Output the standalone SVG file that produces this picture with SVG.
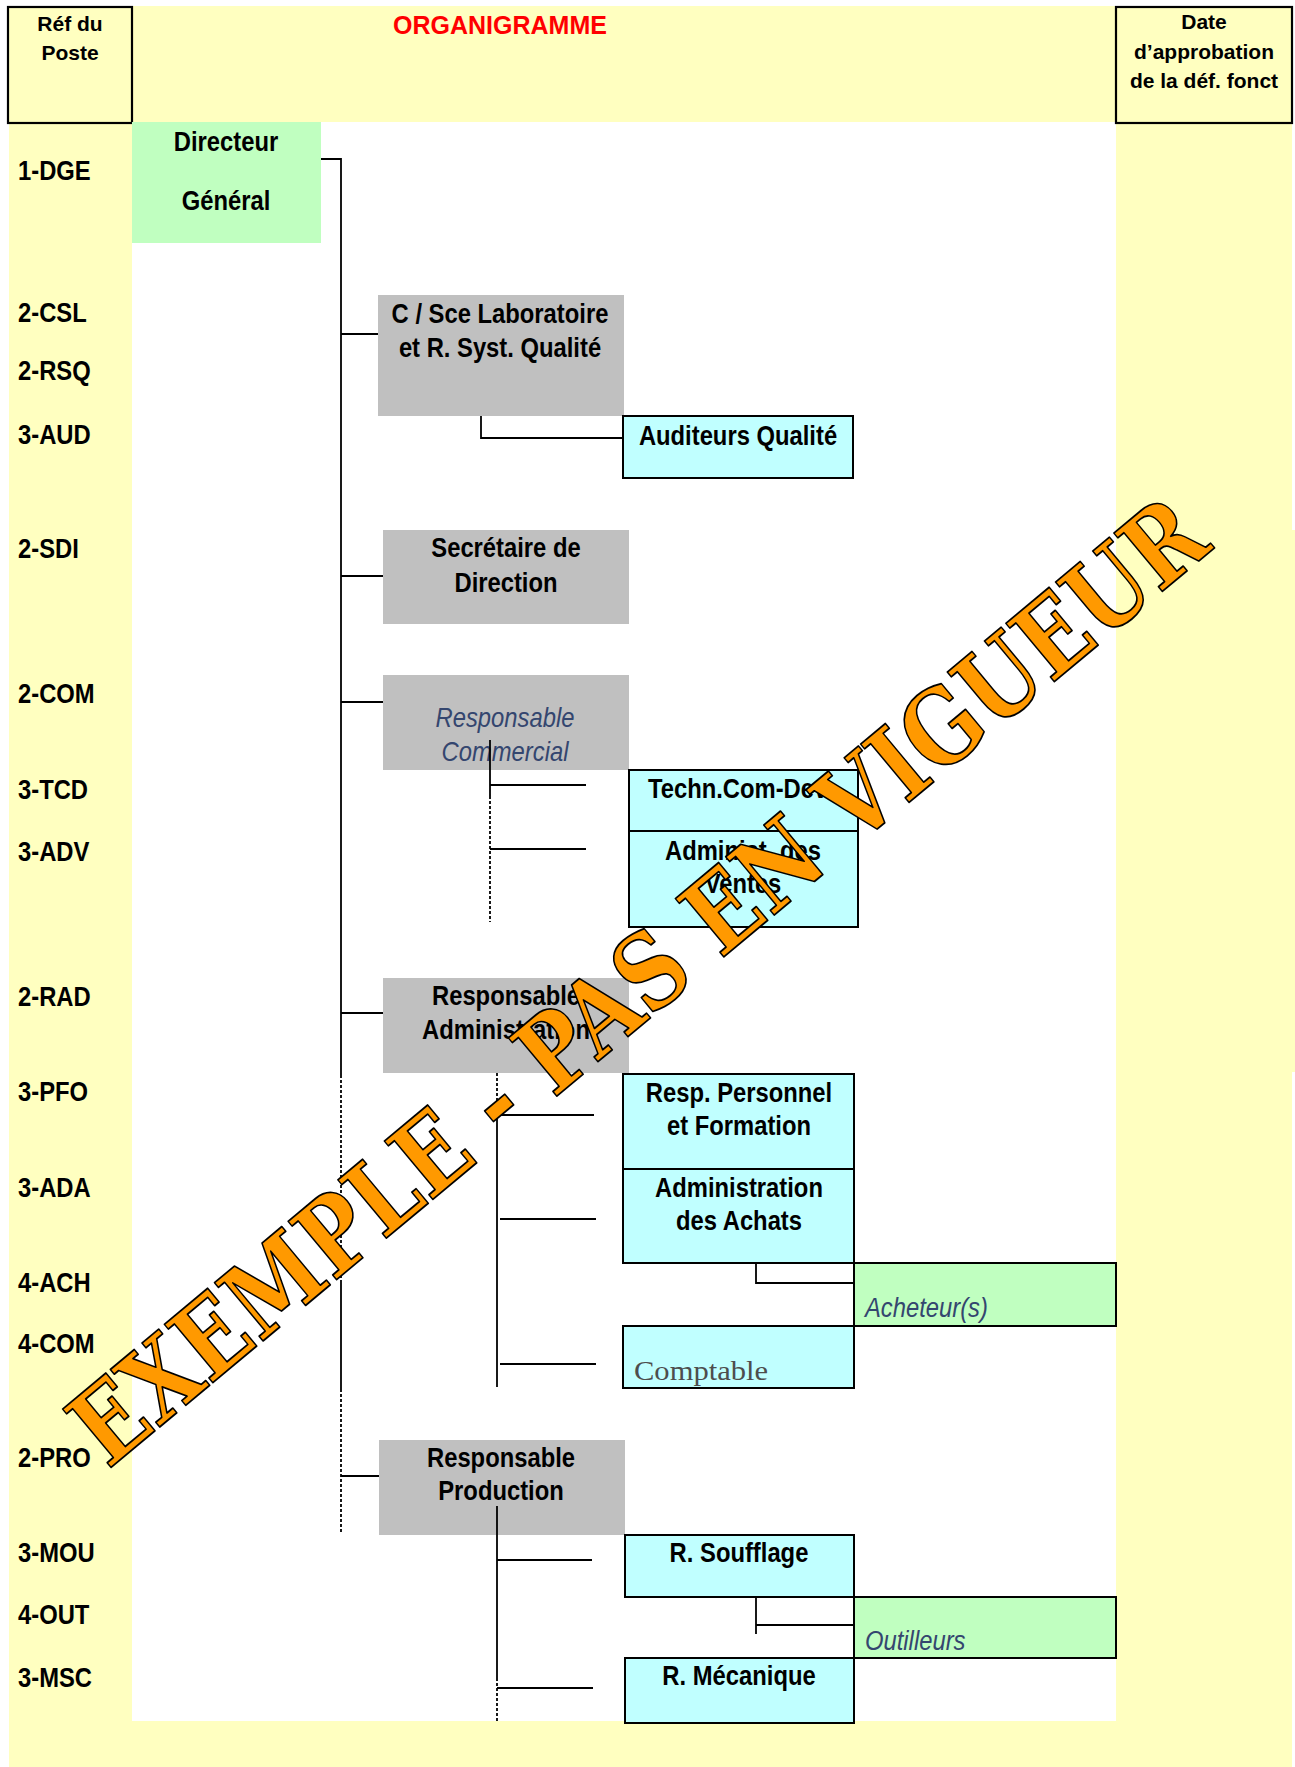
<svg xmlns="http://www.w3.org/2000/svg" width="1295" height="1767" viewBox="0 0 1295 1767">
  <style>
    text { font-family: "Liberation Sans", Arial, sans-serif; }
    .b { font-weight: bold; font-size: 28px; fill: #000; }
    .c { text-anchor: middle; }
    .it { font-style: italic; font-size: 28px; fill: #34466f; }
    .hd { font-weight: bold; font-size: 21px; text-anchor: middle; fill: #000; }
    .ttl { font-weight: bold; font-size: 25px; text-anchor: middle; fill: #ff0000; }
    .yel { fill: #ffffc0; }
    .gray { fill: #c0c0c0; }
    .cyan { fill: #c0ffff; stroke: #000; stroke-width: 2; }
    .green { fill: #c0ffc0; stroke: #000; stroke-width: 2; }
    .frame { fill: none; stroke: #000; stroke-width: 2.2; }
    .ln { stroke: #000; stroke-width: 1.8; fill: none; }
    .dash { stroke-dasharray: 3 2; }
    .serif { font-family: "Liberation Serif", "Times New Roman", serif; font-size: 28px; fill: #4d4d4d; }
    .wm { font-family: "DejaVu Serif", "Liberation Serif", serif; font-weight: bold; font-size: 104px; fill: #ff9900; stroke: #000; stroke-width: 1.8; stroke-linejoin: round; }
  </style>

  <!-- page background: yellow frame around the white chart area -->
  <g id="background">
    <rect x="0" y="0" width="1295" height="1767" fill="#fff"/>
    <rect class="yel" x="9" y="6" width="1107" height="116"/>
    <rect class="yel" x="9" y="122" width="123" height="1600"/>
    <rect class="yel" x="1116" y="6" width="176" height="1716"/>
    <rect class="yel" x="1120" y="530" width="175" height="542"/>
    <rect class="yel" x="9" y="1721" width="1283" height="46"/>
  </g>

  <!-- header cells -->
  <g id="header">
    <rect class="frame" x="8" y="7" width="124" height="116"/>
    <text class="hd" x="70" y="31">Réf du</text>
    <text class="hd" x="70" y="60">Poste</text>
    <text class="ttl" x="500" y="34">ORGANIGRAMME</text>
    <rect class="frame" x="1116" y="7" width="176" height="116"/>
    <text class="hd" x="1204" y="29">Date</text>
    <text class="hd" x="1204" y="59">d’approbation</text>
    <text class="hd" x="1204" y="88">de la déf. fonct</text>
  </g>

  <!-- job reference codes -->
  <g id="codes">
    <text class="b" transform="translate(18,180) scale(.85 1)">1-DGE</text>
    <text class="b" transform="translate(18,322) scale(.85 1)">2-CSL</text>
    <text class="b" transform="translate(18,380) scale(.85 1)">2-RSQ</text>
    <text class="b" transform="translate(18,444) scale(.85 1)">3-AUD</text>
    <text class="b" transform="translate(18,558) scale(.85 1)">2-SDI</text>
    <text class="b" transform="translate(18,703) scale(.85 1)">2-COM</text>
    <text class="b" transform="translate(18,799) scale(.85 1)">3-TCD</text>
    <text class="b" transform="translate(18,861) scale(.85 1)">3-ADV</text>
    <text class="b" transform="translate(18,1006) scale(.85 1)">2-RAD</text>
    <text class="b" transform="translate(18,1101) scale(.85 1)">3-PFO</text>
    <text class="b" transform="translate(18,1197) scale(.85 1)">3-ADA</text>
    <text class="b" transform="translate(18,1292) scale(.85 1)">4-ACH</text>
    <text class="b" transform="translate(18,1353) scale(.85 1)">4-COM</text>
    <text class="b" transform="translate(18,1467) scale(.85 1)">2-PRO</text>
    <text class="b" transform="translate(18,1562) scale(.85 1)">3-MOU</text>
    <text class="b" transform="translate(18,1624) scale(.85 1)">4-OUT</text>
    <text class="b" transform="translate(18,1687) scale(.85 1)">3-MSC</text>
  </g>

  <!-- hierarchy lines -->
  <g id="connectors">
    <!-- main spine from the director -->
    <path class="ln" d="M321 159 H341 V528"/>
    <path class="ln" d="M341 528 V932" stroke-width="2.6"/>
    <path class="ln" d="M341 932 V1075"/>
    <path class="ln dash" d="M341 1075 V1281"/>
    <path class="ln" d="M341 1281 V1389"/>
    <path class="ln dash" d="M341 1389 V1532"/>
    <!-- level 2 branches -->
    <path class="ln" d="M341 334 H378"/>
    <path class="ln" d="M341 576 H383"/>
    <path class="ln" d="M341 702 H383"/>
    <path class="ln" d="M341 1013 H383"/>
    <path class="ln" d="M341 1476 H379"/>
    <!-- quality auditors -->
    <path class="ln" d="M481 416 V438 H623"/>
    <!-- commercial -->
    <path class="ln dash" d="M490 796 V922"/>
    <path class="ln" d="M490 785 H586"/>
    <path class="ln" d="M490 849 H586"/>
    <!-- administration -->
    <path class="ln dash" d="M497 1073 V1112"/>
    <path class="ln" d="M497 1112 V1387"/>
    <path class="ln" d="M497 1115 H594"/>
    <path class="ln" d="M500 1219 H596"/>
    <path class="ln" d="M500 1364 H596"/>
    <path class="ln" d="M756 1263 V1283 H854"/>
    <!-- production -->
    <path class="ln" d="M497 1535 V1678"/>
    <path class="ln dash" d="M497 1678 V1722"/>
    <path class="ln" d="M497 1560 H592"/>
    <path class="ln" d="M497 1688 H593"/>
    <path class="ln" d="M756 1597 V1634"/>
    <path class="ln" d="M756 1625 H854"/>
  </g>

  <g id="dge">
    <rect x="132" y="122" width="189" height="121" fill="#c0ffc0"/>
    <text class="b c" transform="translate(226,151) scale(.85 1)">Directeur</text>
    <text class="b c" transform="translate(226,210) scale(.85 1)">Général</text>
  </g>

  <g id="csl">
    <rect class="gray" x="378" y="295" width="246" height="121"/>
    <text class="b c" transform="translate(500,323) scale(.85 1)">C / Sce Laboratoire</text>
    <text class="b c" transform="translate(500,357) scale(.85 1)">et R. Syst. Qualité</text>
  </g>

  <g id="aud">
    <rect class="cyan" x="623" y="416" width="230" height="62"/>
    <text class="b c" transform="translate(738,445) scale(.85 1)">Auditeurs Qualité</text>
  </g>

  <g id="sdi">
    <rect class="gray" x="383" y="530" width="246" height="94"/>
    <text class="b c" transform="translate(506,557) scale(.85 1)">Secrétaire de</text>
    <text class="b c" transform="translate(506,592) scale(.85 1)">Direction</text>
  </g>

  <g id="com">
    <rect class="gray" x="383" y="675" width="246" height="95"/>
    <text class="it c" transform="translate(505,727) scale(.85 1)">Responsable</text>
    <text class="it c" transform="translate(505,761) scale(.85 1)">Commercial</text>
  </g>
  <!-- commercial sub-line, drawn over its label -->
  <path class="ln" d="M490 740 V796" stroke-width="2.4"/>

  <g id="tcd">
    <rect class="cyan" x="629" y="770" width="229" height="61"/>
    <text class="b c" transform="translate(740,798) scale(.85 1)">Techn.Com-Dev.</text>
  </g>

  <g id="adv">
    <rect class="cyan" x="629" y="831" width="229" height="96"/>
    <text class="b c" transform="translate(743,860) scale(.85 1)">Administ. des</text>
    <text class="b c" transform="translate(743,893) scale(.85 1)">Ventes</text>
  </g>

  <g id="rad">
    <rect class="gray" x="383" y="978" width="246" height="95"/>
    <text class="b c" transform="translate(506,1005) scale(.85 1)">Responsable</text>
    <text class="b c" transform="translate(506,1039) scale(.85 1)">Administration</text>
  </g>

  <g id="pfo">
    <rect class="cyan" x="623" y="1074" width="231" height="95"/>
    <text class="b c" transform="translate(739,1102) scale(.85 1)">Resp. Personnel</text>
    <text class="b c" transform="translate(739,1135) scale(.85 1)">et Formation</text>
  </g>

  <g id="ada">
    <rect class="cyan" x="623" y="1169" width="231" height="94"/>
    <text class="b c" transform="translate(739,1197) scale(.85 1)">Administration</text>
    <text class="b c" transform="translate(739,1230) scale(.85 1)">des Achats</text>
  </g>

  <g id="ach">
    <rect class="green" x="854" y="1263" width="262" height="63"/>
    <text class="it" transform="translate(865,1317) scale(.85 1)">Acheteur(s)</text>
  </g>

  <g id="cpt">
    <rect class="cyan" x="623" y="1326" width="231" height="62"/>
    <text class="serif" x="634" y="1380" textLength="134" lengthAdjust="spacingAndGlyphs">Comptable</text>
  </g>

  <g id="pro">
    <rect class="gray" x="379" y="1440" width="246" height="95"/>
    <text class="b c" transform="translate(501,1467) scale(.85 1)">Responsable</text>
    <text class="b c" transform="translate(501,1500) scale(.85 1)">Production</text>
  </g>
  <!-- production sub-line, drawn over its box -->
  <path class="ln" d="M497 1506 V1535"/>

  <g id="mou">
    <rect class="cyan" x="625" y="1535" width="229" height="62"/>
    <text class="b c" transform="translate(739,1562) scale(.85 1)">R. Soufflage</text>
  </g>

  <g id="out">
    <rect class="green" x="854" y="1597" width="262" height="61"/>
    <text class="it" transform="translate(865,1650) scale(.85 1)">Outilleurs</text>
  </g>

  <g id="msc">
    <rect class="cyan" x="625" y="1658" width="229" height="65"/>
    <text class="b c" transform="translate(739,1685) scale(.85 1)">R. Mécanique</text>
  </g>

  <!-- status stamp across the chart -->
  <text class="wm" transform="translate(108,1470) rotate(-39.8)" x="0" y="0" textLength="1440" lengthAdjust="spacingAndGlyphs">EXEMPLE - PAS EN VIGUEUR</text>
</svg>
